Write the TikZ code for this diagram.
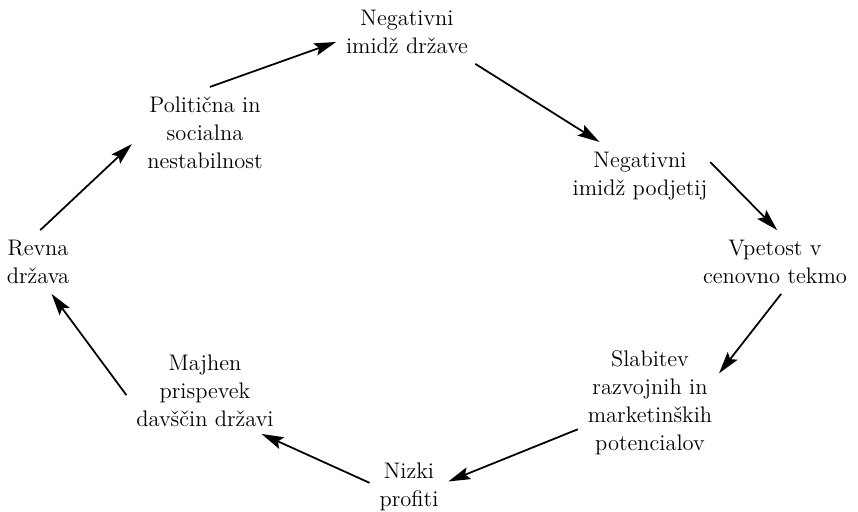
\documentclass[tikz,border=0pt]{standalone}
\usepackage{tikz}
\usetikzlibrary{arrows.meta}

\tikzset{
	cyc/.style={align=center, inner sep=0.2cm, outer sep=0pt, font=\fontsize{12.8}{16}\selectfont},
	cycarrow/.style={line width=1pt, -{Stealth[length=0.44cm, width=0.25cm, inset=0.08cm]}}
}

\begin{document}
\begin{tikzpicture}
			%%%%% START %%%%%
			
			\useasboundingbox (0, 0) rectangle (17.16, 10.24);
			
			\node[cyc] (drzava) at (8.14, 9.60) {Negativni\\imidž države};
			\node[cyc] (podjetja) at (12.80, 6.72) {Negativni\\imidž podjetij};
			\node[cyc] (tekma) at (15.50, 5.00) {Vpetost v\\cenovno tekmo};
			\node[cyc] (slabitev) at (13.00, 2.18) {Slabitev\\razvojnih in\\marketinških\\potencialov};
			\node[cyc] (profiti) at (8.18, 0.50) {Nizki\\profiti};
			\node[cyc] (davscine) at (4.10, 2.42) {Majhen\\prispevek\\davščin državi};
			\node[cyc] (revna) at (0.76, 5.00) {Revna\\država};
			\node[cyc] (nestab) at (4.10, 7.58) {Politična in\\socialna\\nestabilnost};
			
			\draw[cycarrow] (nestab.84) -- (drzava.188);
			\draw[cycarrow] (drzava.335) -- (podjetja.140);
			\draw[cycarrow, shorten <=-0.2cm] (podjetja.5) -- (tekma.86);
			\draw[cycarrow, shorten >=-0.1cm] (tekma.281) -- (slabitev.25);
			\draw[cycarrow] (slabitev.200) -- (profiti.8);
			\draw[cycarrow, shorten >=-0.15cm] (profiti.174) -- (davscine.324);
			\draw[cycarrow] (davscine.183) -- (revna.293);
			\draw[cycarrow, shorten >=0.15cm] (revna.86) -- (nestab.185);
			
			%%%%% END %%%%%
		\end{tikzpicture}
\end{document}
